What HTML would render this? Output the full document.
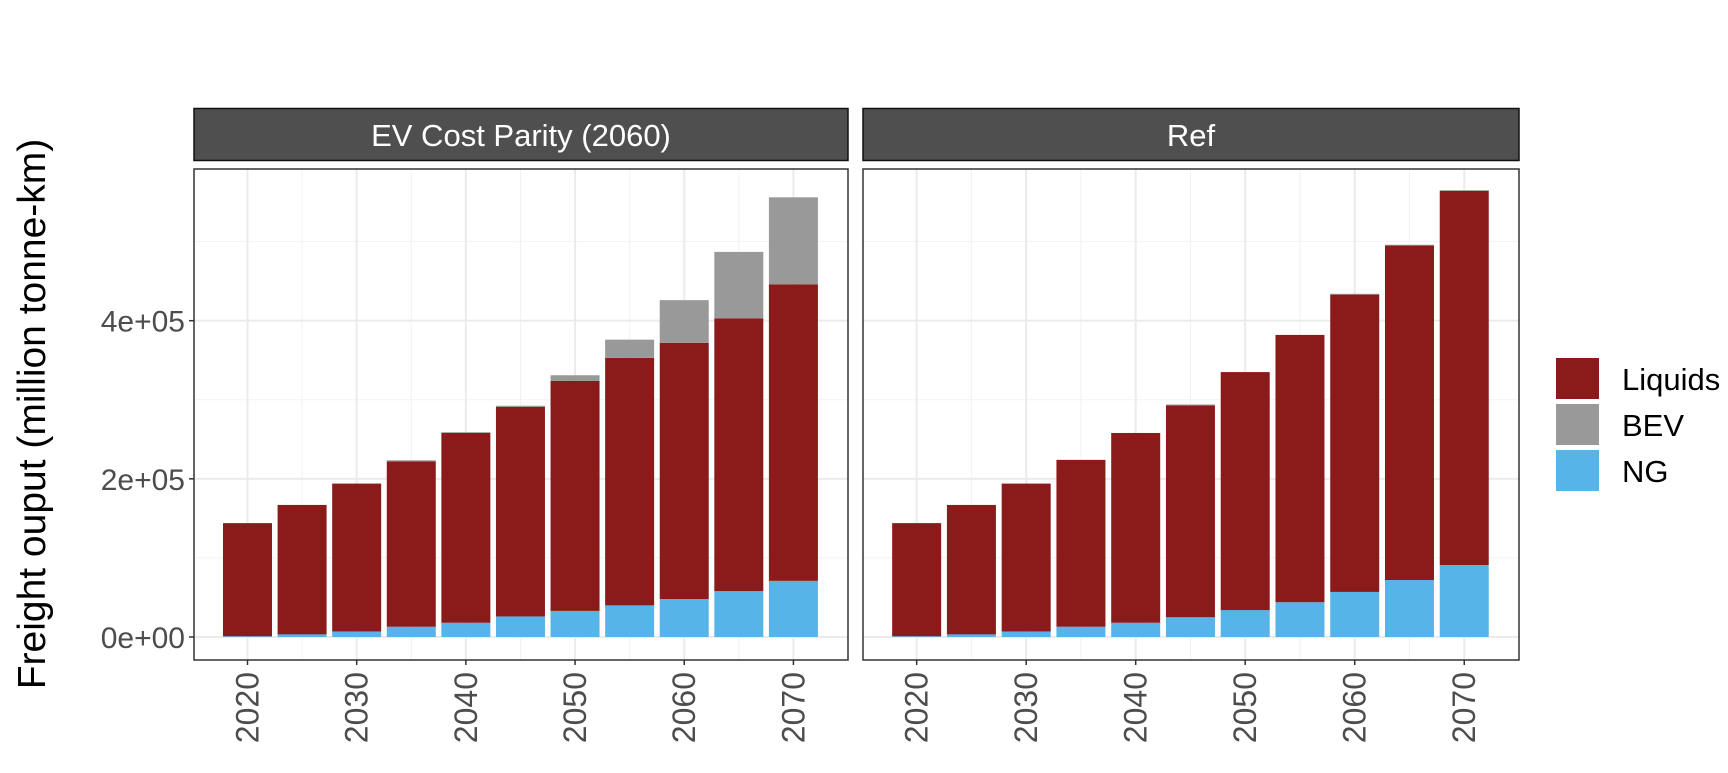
<!DOCTYPE html>
<html><head><meta charset="utf-8"><style>
body{margin:0;background:#fff;width:1728px;height:768px;overflow:hidden;font-family:"Liberation Sans",Arial,sans-serif}
</style></head><body>
<svg id="c" width="1728" height="768" xmlns="http://www.w3.org/2000/svg"></svg>
<script>
const years=[2020,2025,2030,2035,2040,2045,2050,2055,2060,2065,2070];
const evNG=[1,3.3,7,13,18,26,33,40,48,58,71];
const evLiq=[143,163.7,187,209,240,265,291,313,324,345,375];
const evBEV=[0,0,0,1.5,1,1.5,7,23,54,84,110];
const refNG=[1,3.3,7,13,18,25,34,44,57,72,91];
const refLiq=[143,163.7,187,211,240,268,301,338,376,423,473];
const refBEV=[0,0,0,0,0,1,0,0,1,1,1];
const yTicks=[0,200,400];
const yTickLabels=["0e+00","2e+05","4e+05"];
const xTicks=[2020,2030,2040,2050,2060,2070];
const panels=[{title:"EV Cost Parity (2060)",left:194,right:848,ng:evNG,liq:evLiq,bev:evBEV},
              {title:"Ref",left:863,right:1519,ng:refNG,liq:refLiq,bev:refBEV}];
const colors={liq:"#8B1A1A",bev:"#999999",ng:"#56B4E9"};
const NS="http://www.w3.org/2000/svg";
const svg=document.getElementById('c');
const TOP=169,BOT=660;
function yS(v){return 637-v*0.7908;}
function mk(t,a,p){const e=document.createElementNS(NS,t);for(const k in a)e.setAttribute(k,a[k]);(p||svg).appendChild(e);return e;}
panels.forEach((P,pi)=>{
  const xS=y=>P.left+(y-2015.1)/(59.9)*(P.right-P.left);
  const g=mk('g',{});
  
  
  const s=mk('rect',{x:P.left,y:108.5,width:P.right-P.left,height:52,fill:'#4f4f4f',stroke:'#111','stroke-width':1.5},g);
  
  
  const st=mk('text',{x:(P.left+P.right)/2,y:146,'text-anchor':'middle','font-size':31,fill:'#fff'},g);
  st.textContent=P.title;
  
  
  [100,300,500].forEach(v=>mk('line',{x1:P.left,x2:P.right,y1:yS(v),y2:yS(v),stroke:'#f2f2f2','stroke-width':1},g));
  [2025,2035,2045,2055,2065].forEach(v=>mk('line',{x1:xS(v),x2:xS(v),y1:TOP,y2:BOT,stroke:'#f2f2f2','stroke-width':1},g));
  yTicks.forEach(v=>mk('line',{x1:P.left,x2:P.right,y1:yS(v),y2:yS(v),stroke:'#ebebeb','stroke-width':2},g));
  xTicks.forEach(v=>mk('line',{x1:xS(v),x2:xS(v),y1:TOP,y2:BOT,stroke:'#ebebeb','stroke-width':2},g));
  years.forEach((yr,i)=>{
    const x=xS(yr)-24.5,w=49;
    const segs=[['ng',0,P.ng[i]],['liq',P.ng[i],P.ng[i]+P.liq[i]],['bev',P.ng[i]+P.liq[i],P.ng[i]+P.liq[i]+P.bev[i]]];
    segs.forEach(([k,a,b])=>{
      if(b<=a)return;
      const r=mk('rect',{x:x,y:yS(b),width:w,height:yS(a)-yS(b),fill:colors[k]},g);
      
      
    });
  });
  mk('rect',{x:P.left,y:TOP,width:P.right-P.left,height:BOT-TOP,fill:'none',stroke:'#333','stroke-width':1.5},g);
  xTicks.forEach(v=>{
    mk('line',{x1:xS(v),x2:xS(v),y1:BOT,y2:BOT+5,stroke:'#333','stroke-width':1.5},g);
    const t=mk('text',{x:0,y:0,'text-anchor':'end','font-size':32,fill:'#4d4d4d',transform:`translate(${xS(v)+11},${BOT+12}) rotate(-90)`},g);
    t.textContent=v;
    
    
  });
  if(pi===0){
    yTicks.forEach((v,i)=>{
      mk('line',{x1:P.left-5,x2:P.left,y1:yS(v),y2:yS(v),stroke:'#333','stroke-width':1.5},g);
      const t=mk('text',{x:P.left-9,y:yS(v)+11,'text-anchor':'end','font-size':30,fill:'#4d4d4d'},g);
      t.textContent=yTickLabels[i];
      
      
    });
  }
});
const yt=mk('text',{x:0,y:0,'text-anchor':'middle','font-size':39,fill:'#000',transform:'translate(45,414) rotate(-90)'});
yt.textContent="Freight ouput (million tonne-km)";


const leg=[['Liquids','liq',358],['BEV','bev',404],['NG','ng',450]];
leg.forEach(([lab,k,y])=>{
  const r=mk('rect',{x:1556,y:y,width:43,height:41,fill:colors[k]});
  
  
  const t=mk('text',{x:1622,y:y+32,'font-size':31,fill:'#000'});
  t.textContent=lab;
  
  
});
</script>
</body></html>
